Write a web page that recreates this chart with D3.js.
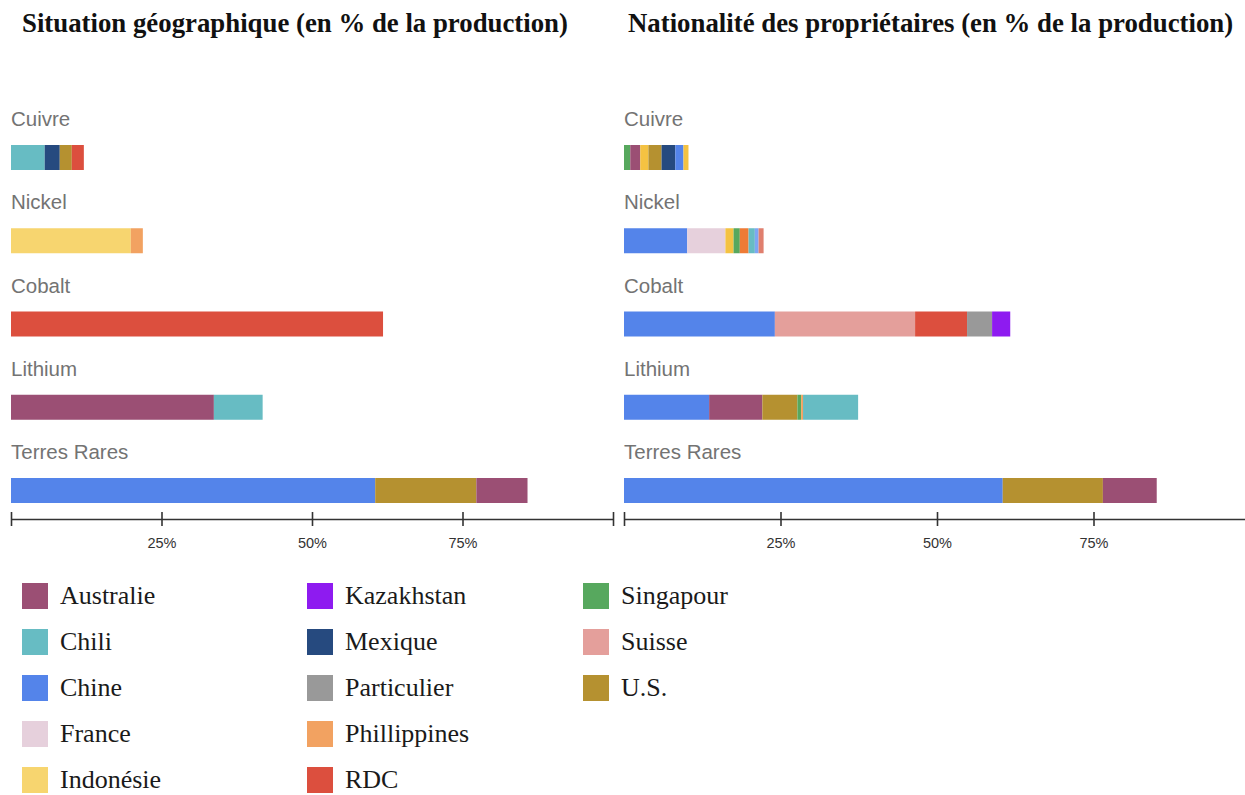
<!DOCTYPE html>
<html>
<head>
<meta charset="utf-8">
<script src="https://cdn.jsdelivr.net/npm/d3@7"></script>
<style>
  body { margin: 0; background: #fff; }
  svg { display: block; }
</style>
</head>
<body>
<div id="vis"></div>
<script>
// categories
const minerals = ["Cuivre", "Nickel", "Cobalt", "Lithium", "Terres Rares"];

// % of production, left panel (location of the mines)
const geoBars = [
  [["Chili", 5.6], ["Mexique", 2.5], ["U.S.", 2.0], ["RDC", 2.0]],
  [["Indonésie", 19.9], ["Phillippines", 2.0]],
  [["RDC", 61.8]],
  [["Australie", 33.7], ["Chili", 8.1]],
  [["Chine", 60.5], ["U.S.", 16.8], ["Australie", 8.5]]
];

// % of production, right panel (nationality of the owners)
const ownerBars = [
  [["Singapour", 1.0], ["Australie", 1.6], ["_jaune", 1.3], ["U.S.", 2.1], ["Mexique", 2.2], ["Chine", 1.3], ["_jaune", 0.8]],
  [["Chine", 10.1], ["France", 6.1], ["_jaune", 1.3], ["Singapour", 1.0], ["_orange", 1.4], ["Chili", 1.0], ["_bleu", 0.6], ["_saumon", 0.8]],
  [["Chine", 24.1], ["Suisse", 22.4], ["RDC", 8.3], ["Particulier", 4.0], ["Kazakhstan", 2.9]],
  [["Chine", 13.6], ["Australie", 8.5], ["U.S.", 5.6], ["Singapour", 0.6], ["Phillippines", 0.3], ["Chili", 8.8]],
  [["Chine", 60.5], ["U.S.", 16.0], ["Australie", 8.6]]
];

const legendKeys = ["Australie", "Chili", "Chine", "France", "Indonésie",
  "Kazakhstan", "Mexique", "Particulier", "Phillippines", "RDC",
  "Singapour", "Suisse", "U.S."];
const legendColors = ["#9b4f74", "#67bcc3", "#5484ea", "#e6d0dc", "#f7d56f",
  "#8e1bf0", "#264a7f", "#999999", "#f2a261", "#dc4f3e",
  "#57a85e", "#e49f9b", "#b59130"];
// segments whose colour has no entry in the legend
const extraKeys = ["_jaune", "_orange", "_bleu", "_saumon"];
const extraColors = ["#f4c242", "#ee7b36", "#7ea6f3", "#e07f6e"];

const tickValues = [0, 25, 50, 75, 100];
const titles = ["Situation géographique (en % de la production)",
  "Nationalité des propriétaires (en % de la production)"];

const width = 1245, height = 795;
const color = d3.scaleOrdinal()
  .domain(legendKeys.concat(extraKeys))
  .range(legendColors.concat(extraColors));

const svg = d3.select("#vis").append("svg")
  .attr("width", width)
  .attr("height", height);

// bar tops
const y = d3.scalePoint().domain(minerals).range([145, 478]);
const barH = 25;
const axisY = 519;

const panels = [
  { title: titles[0], bars: geoBars, range: [11, 613], titleX: 22 },
  { title: titles[1], bars: ownerBars, range: [624, 1250], titleX: 628 }
];

panels.forEach(function(p) {
  const x = d3.scaleLinear().domain([0, 100]).range(p.range);

  svg.append("text")
    .attr("x", p.titleX)
    .attr("y", 32)
    .style("font-family", "'Liberation Serif', 'Times New Roman', serif")
    .style("font-weight", "bold")
    .style("font-size", "26.8px")
    .style("fill", "#111")
    .text(p.title);

  const rows = svg.append("g").selectAll("g")
    .data(minerals)
    .join("g");

  rows.append("text")
    .attr("x", p.range[0])
    .attr("y", d => y(d) - 19)
    .style("font-family", "'Liberation Sans', Arial, sans-serif")
    .style("font-size", "20.5px")
    .style("fill", "#737373")
    .text(d => d);

  rows.each(function(m, i) {
    const segs = p.bars[i];
    const ends = d3.cumsum(segs, s => s[1]);
    d3.select(this).selectAll("rect")
      .data(segs)
      .join("rect")
      .attr("x", (s, j) => x(ends[j] - s[1]))
      .attr("width", (s, j) => x(ends[j]) - x(ends[j] - s[1]))
      .attr("y", y(m))
      .attr("height", barH)
      .attr("fill", s => color(s[0]));
  });

  const axis = svg.append("g")
    .attr("transform", "translate(0," + axisY + ")")
    .call(d3.axisBottom(x)
      .tickValues(tickValues)
      .tickSizeOuter(0)
      .tickFormat(d => (d === 0 || d === 100) ? "" : d + "%"));

  axis.select(".domain").attr("stroke", "#333").attr("stroke-width", 1.6);
  axis.selectAll(".tick line")
    .attr("y1", -7).attr("y2", 7)
    .attr("stroke", "#333").attr("stroke-width", 1.6);
  axis.selectAll(".tick text")
    .attr("y", 19)
    .style("font-family", "'Liberation Sans', Arial, sans-serif")
    .style("font-size", "14.5px")
    .style("fill", "#333");
});

// legend: 5 entries per column
const colX = [22, 307, 583];
const legend = svg.append("g").selectAll("g")
  .data(legendKeys)
  .join("g")
  .attr("transform", (d, i) => "translate(" + colX[Math.floor(i / 5)] + "," + (583 + (i % 5) * 46) + ")");

legend.append("rect")
  .attr("width", 26)
  .attr("height", 26)
  .attr("fill", d => color(d));

legend.append("text")
  .attr("x", 38)
  .attr("y", 21)
  .style("font-family", "'Liberation Serif', 'Times New Roman', serif")
  .style("font-size", "26px")
  .style("fill", "#1a1a1a")
  .text(d => d);
</script>
</body>
</html>
